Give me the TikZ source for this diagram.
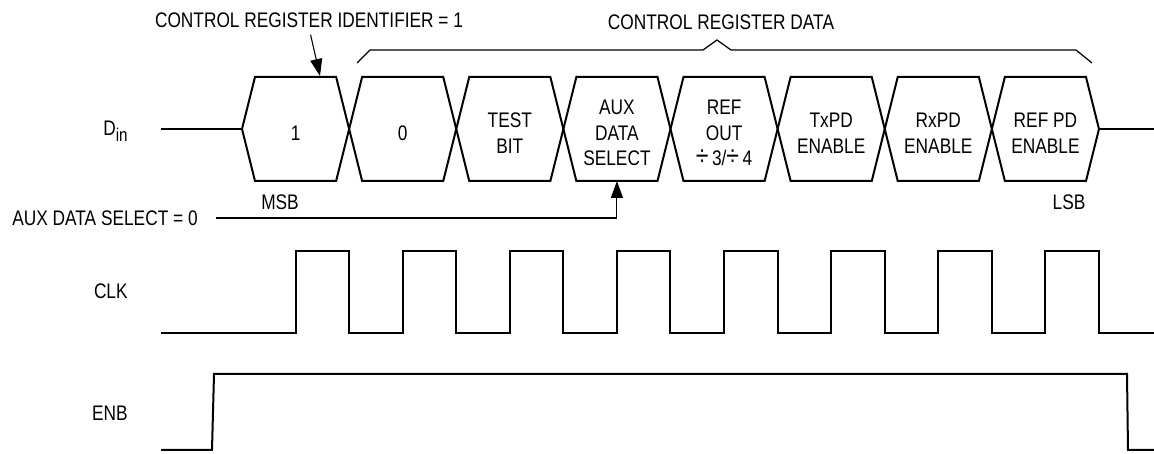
\documentclass[tikz,border=0pt]{standalone}
\usepackage{fontspec}
\setmainfont{Liberation Sans}[FakeStretch=0.82]
\usetikzlibrary{arrows.meta,calc}
\newcommand{\bigdiv}{{\fontsize{16}{14.7}\selectfont ÷}}

\begin{document}
\begin{tikzpicture}[
  x=0.2mm, y=0.2mm,
  font=\fontsize{12}{14.7}\selectfont,
  wave/.style={line width=0.4mm, line join=miter},
  lbl/.style={inner sep=0pt, align=center},
  sig/.style={inner sep=0pt, anchor=east},
  arr/.style={-{Triangle[length=3.4mm, width=2.4mm]}, line width=0.22mm},
]
\useasboundingbox (0,0) rectangle (1154,454);
% signal names
\node[sig] (din) at (128,323) {D\raisebox{-0.5ex}{\fontsize{10.5}{10.5}\selectfont in}};
\node[sig] (clk) at (128,163) {CLK};
\node[sig] (enb) at (128,41) {ENB};

% D_in bus: 8 bit cells, 107.125 wide, edge slope 13
\draw[wave] (161,325) -- (242,325);
\foreach \i/\txt in {0/1, 1/0, 2/{TEST\\BIT}, 3/{AUX\\DATA\\SELECT},
    4/{REF\\OUT\\\bigdiv\,3/\bigdiv\,4}, 5/{TxPD\\ENABLE}, 6/{RxPD\\ENABLE}, 7/{REF PD\\ENABLE}}{
  \pgfmathsetmacro{\xa}{242+107.125*\i}
  \pgfmathsetmacro{\xb}{\xa+107.125}
  \draw[wave] (\xa,325) -- (\xa+13,377) -- (\xb-13,377) -- (\xb,325)
    -- (\xb-13,273) -- (\xa+13,273) -- cycle;
  \node[lbl] (bit\i) at ({(\xa+\xb)/2},321) {\txt};
  \coordinate (bot\i) at ({(\xa+\xb)/2},273);
}
\draw[wave] (1099,325) -- (1154,325);
\node[lbl] (msb) at (280,252) {MSB};
\node[lbl] (lsb) at (1069,252) {LSB};

% identifier + data bracket
\node[lbl] (ident) at (309,434) {CONTROL REGISTER IDENTIFIER = 1};
\coordinate (idtip) at (320,378);
\draw[arr, shorten <=1.4mm] (ident.south) -- (idtip);
\node[lbl] (data) at (721,432) {CONTROL REGISTER DATA};
\draw[line width=0.25mm] (357,391) -- (370,404) -- (703,404) -- (717,414)
  -- (731,404) -- (1076,404) -- (1092,391);

% aux data select pointer
\node[lbl, anchor=west] (auxsel) at (12,236) {AUX DATA SELECT = 0};
\draw[arr, shorten <=3.6mm] (auxsel.east) -| (bot3);

% CLK: one pulse per bit, rise mid cell, fall at cell edge
\draw[wave] (161,121) \foreach \i in {0,...,7}{
    -- ({295.5+107.125*\i},121) -- ++(0,82)
    -- ({349.1+107.125*\i},203) -- ++(0,-82) } -- (1154,121);

% ENB
\draw[wave] (161,4) -- (212,4) -- (214,80) -- (1127,80) -- (1128,4) -- (1154,4);
\end{tikzpicture}
\end{document}
